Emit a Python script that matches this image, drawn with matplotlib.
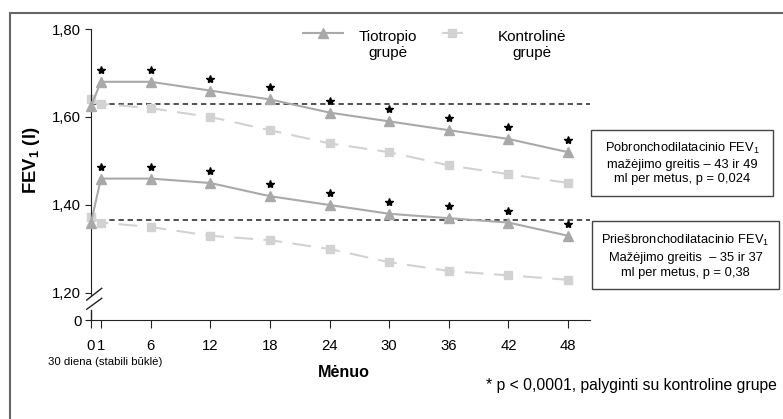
import matplotlib
matplotlib.use('Agg')
import matplotlib.pyplot as plt
from matplotlib.lines import Line2D
from matplotlib.patches import Rectangle
from matplotlib.transforms import offset_copy

plt.rcParams['font.family'] = ['Liberation Sans', 'DejaVu Sans']
plt.rcParams['mathtext.fontset'] = 'custom'
plt.rcParams['mathtext.rm'] = 'Liberation Sans'
plt.rcParams['mathtext.it'] = 'Liberation Sans:italic'
plt.rcParams['mathtext.bf'] = 'Liberation Sans:bold'

# ---------------- data ----------------
months = [0, 1, 6, 12, 18, 24, 30, 36, 42, 48]
month_labels = ['0', '1', '6', '12', '18', '24', '30', '36', '42', '48']
post_tio = [1.625, 1.68, 1.68, 1.66, 1.64, 1.61, 1.59, 1.57, 1.55, 1.52]
post_ctrl = [1.64, 1.63, 1.62, 1.60, 1.57, 1.54, 1.52, 1.49, 1.47, 1.45]
pre_tio = [1.36, 1.46, 1.46, 1.45, 1.42, 1.40, 1.38, 1.37, 1.36, 1.33]
pre_ctrl = [1.373, 1.36, 1.35, 1.33, 1.32, 1.30, 1.27, 1.25, 1.24, 1.23]
ref_post = 1.63
ref_pre = 1.365
y_ticks = [1.20, 1.40, 1.60, 1.80]
y_tick_labels = ['1,20', '1,40', '1,60', '1,80']
y_zero_label = '0'

legend_tio = 'Tiotropio\ngrupė'
legend_ctrl = 'Kontrolinė\ngrupė'
box_post = 'Pobronchodilatacinio FEV$_1$\nmažėjimo greitis – 43 ir 49\nml per metus, p = 0,024'
box_pre = 'Priešbronchodilatacinio FEV$_1$\nMažėjimo greitis  – 35 ir 37\nml per metus, p = 0,38'
footnote = '* p < 0,0001, palyginti su kontroline grupe'
xlabel = 'Mėnuo'
ylabel = 'FEV$_\\mathbf{1}$ (l)'
baseline_note = '30 diena (stabili būklė)'

# ---------------- styles ----------------
c_tio = '#a9a9a9'
c_ctrl = '#d2d2d2'
W, H = 783, 419
ylo, yhi = 1.1386, 1.80
xlo, xhi = 0, 50.2

fig = plt.figure(figsize=(W / 100, H / 100), dpi=100)
ax = fig.add_axes([91 / W, 1 - 320 / H, (590 - 91) / W, (320 - 29) / H])
ax.set_xlim(xlo, xhi)
ax.set_ylim(ylo, yhi)

# reference dashed lines
ax.axhline(ref_post, color='#222222', lw=1.1, ls=(0, (3.5, 2.5)), zorder=1)
ax.axhline(ref_pre, color='#222222', lw=1.1, ls=(0, (3.5, 2.5)), zorder=1)

for ctrl in (post_ctrl, pre_ctrl):
    ax.plot(months, ctrl, color=c_ctrl, lw=1.5, ls=(0, (9, 5)), marker='s',
            markersize=5.5, markerfacecolor=c_ctrl, markeredgecolor=c_ctrl,
            clip_on=False, zorder=2)
for tio in (post_tio, pre_tio):
    ax.plot(months, tio, color=c_tio, lw=1.5, marker='^', markersize=7.5,
            markerfacecolor=c_tio, markeredgecolor=c_tio, clip_on=False, zorder=3)

# significance stars
star_tr = offset_copy(ax.transData, fig=fig, x=0, y=12, units='dots')
for tio in (post_tio, pre_tio):
    ax.plot(months[1:], tio[1:], ls='none', marker='*', markersize=6,
            color='black', transform=star_tr, clip_on=False, zorder=4)

# axes styling
for s in ('top', 'right'):
    ax.spines[s].set_visible(False)
ax.spines['left'].set_bounds(1.195, yhi)
ax.spines['left'].set_color('#222222')
ax.spines['bottom'].set_color('#222222')
ax.set_xticks(months)
ax.set_xticklabels(month_labels)
ax.set_yticks([ylo] + y_ticks)
ax.set_yticklabels([y_zero_label] + y_tick_labels)
ax.tick_params(axis='x', length=6, pad=8, labelsize=10.7, color='#222222')
ax.tick_params(axis='y', length=4, pad=3, labelsize=10.7, color='#222222')

# axis break marks
ax.plot([0, 0], [ylo, 1.162], color='#222222', lw=1, clip_on=False)
ax.plot([-0.43, 1.08], [1.184, 1.2107], color='#222222', lw=1, clip_on=False)
ax.plot([-0.43, 1.08], [1.163, 1.188], color='#222222', lw=1, clip_on=False)

# labels
fig.text(32 / W, 1 - 160 / H, ylabel, rotation=90, fontsize=13.3,
         fontweight='bold', ha='center', va='center')
fig.text(344 / W, 1 - 372 / H, xlabel, fontsize=11.6, fontweight='bold',
         ha='center', va='center')
fig.text(105 / W, 1 - 362 / H, baseline_note, fontsize=8.2, ha='center', va='center')
fig.text(777 / W, 1 - 385 / H, footnote, fontsize=11.3, ha='right', va='center')

# manual legend
ly = 1 - 33 / H
fig.add_artist(Line2D([303 / W, 343 / W], [ly, ly], color=c_tio, lw=1.5))
fig.add_artist(Line2D([323 / W], [ly], color=c_tio, marker='^', markersize=7.5, ls='none'))
fig.text(388 / W, 1 - 45 / H, legend_tio, fontsize=11, ha='center', va='center',
         multialignment='center', linespacing=1.2)
fig.add_artist(Line2D([443 / W, 462 / W], [ly, ly], color=c_ctrl, lw=1.5))
fig.add_artist(Line2D([452 / W], [ly], color=c_ctrl, marker='s', markersize=5.5, ls='none'))
fig.text(532 / W, 1 - 45 / H, legend_ctrl, fontsize=11, ha='center', va='center',
         multialignment='center', linespacing=1.2)

# annotation boxes
fig.add_artist(Rectangle((591 / W, 1 - 196 / H), 182 / W, 66 / H, transform=fig.transFigure,
                         fill=False, edgecolor='#444444', lw=1.0))
fig.text(682 / W, 1 - 163 / H, box_post, fontsize=9.3, ha='center', va='center',
         multialignment='center', linespacing=1.28)
fig.add_artist(Rectangle((592 / W, 1 - 289 / H), 187 / W, 68 / H, transform=fig.transFigure,
                         fill=False, edgecolor='#444444', lw=1.0))
fig.text(685.5 / W, 1 - 256 / H, box_pre, fontsize=9.3, ha='center', va='center',
         multialignment='center', linespacing=1.4)

# outer frame (extends past right/bottom edges)
fig.add_artist(Rectangle((10 / W, -0.1), 1.0, (1 - 13 / H) + 0.1, transform=fig.transFigure,
                         fill=False, edgecolor='#666666', lw=1.5, clip_on=False))

fig.savefig('out.png', dpi=100)
